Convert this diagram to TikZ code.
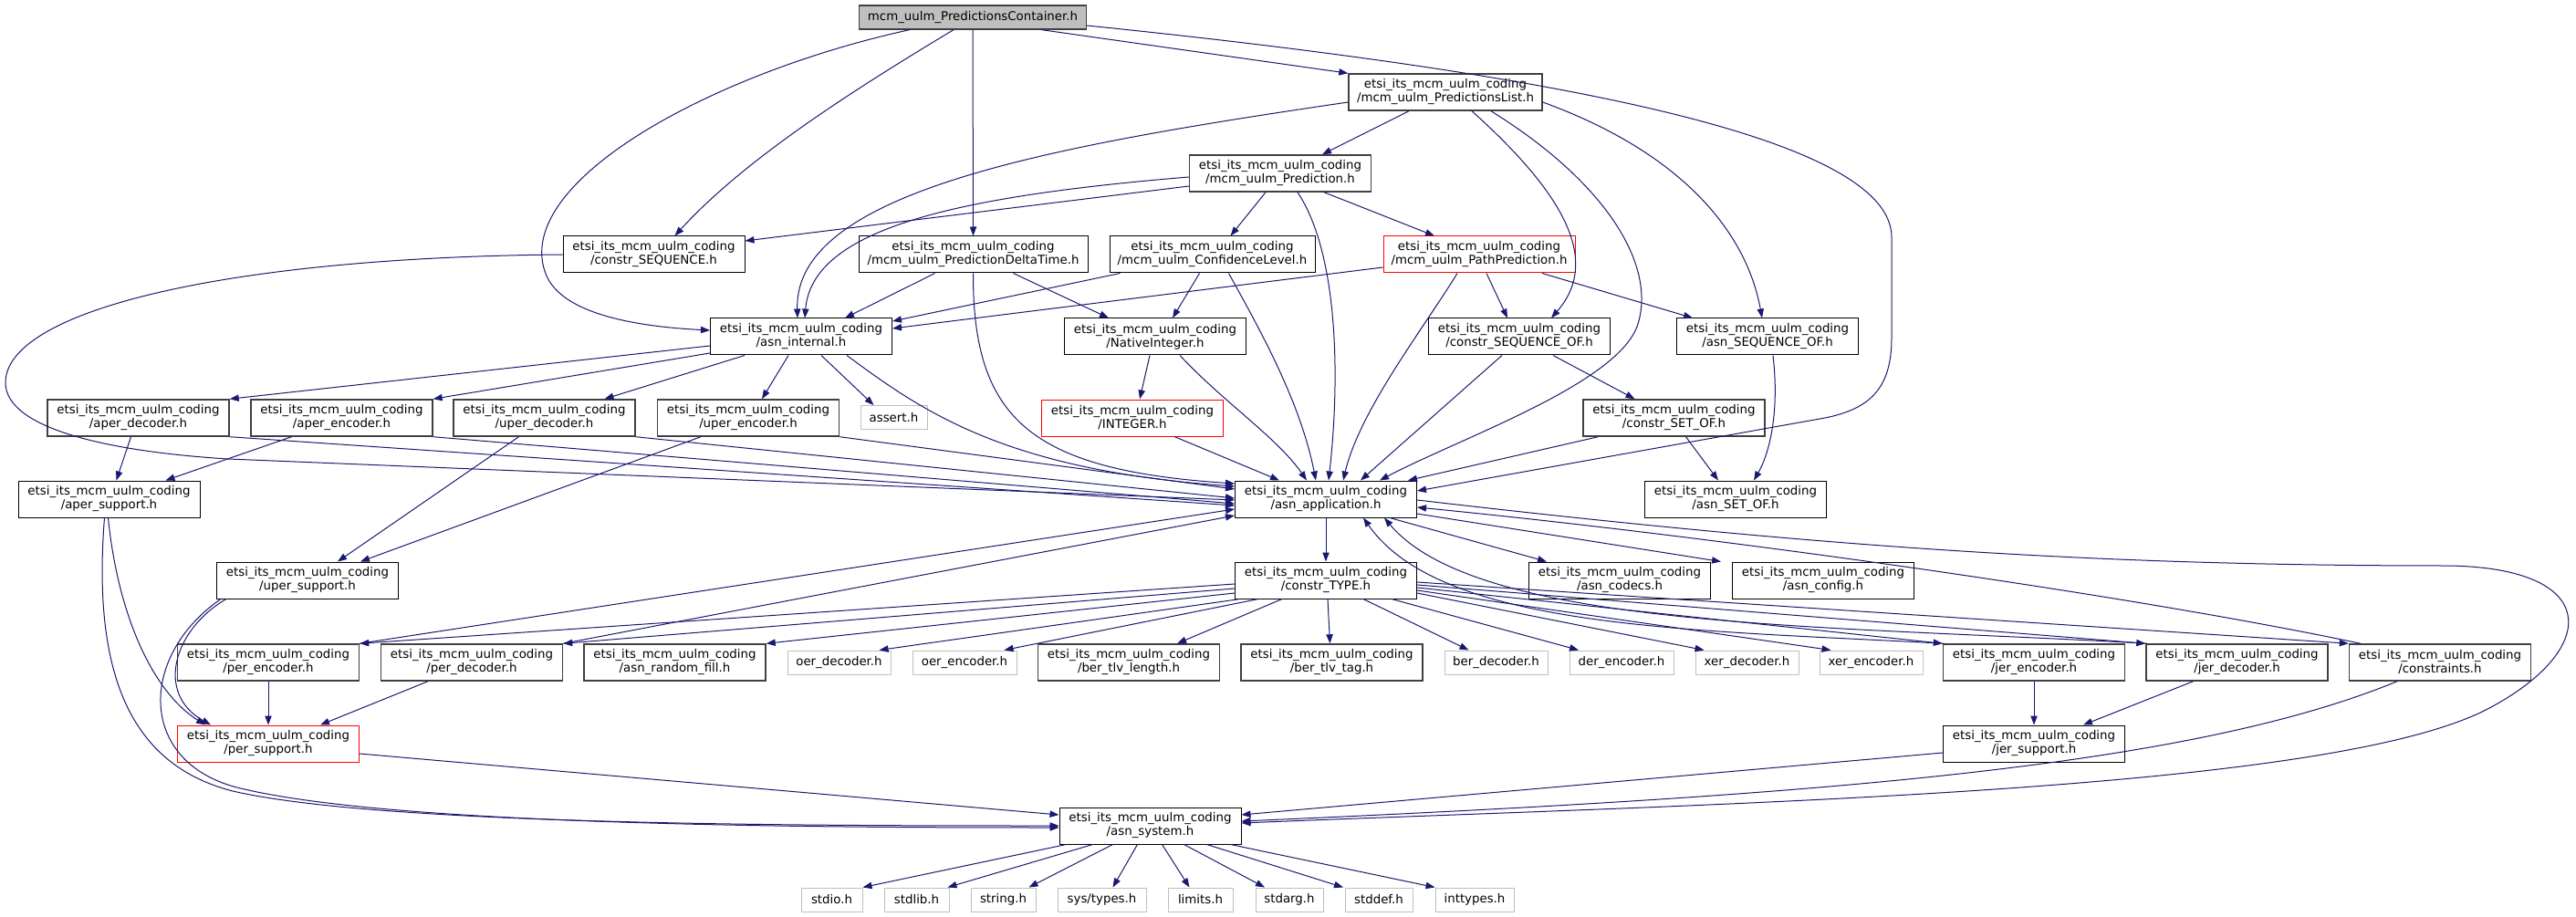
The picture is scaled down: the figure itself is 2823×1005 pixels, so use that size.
\documentclass[tikz,border=0pt]{standalone}
\usepackage{fontspec}
\setmainfont{DejaVu Sans}
\usepackage{tikz}
\usetikzlibrary{calc, arrows.meta}
\definecolor{edgeblue}{HTML}{191970}
\definecolor{rootgrey}{HTML}{BFBFBF}
\definecolor{sysgrey}{HTML}{BFBFBF}
\definecolor{bordergrey}{HTML}{404040}
\newcommand{\etsidir}{etsi\_its\_mcm\_uulm\_coding}
\tikzset{
	every node/.append style={
		font=\fontsize{10}{11.25}\selectfont,
		inner sep=0pt,
	},
	filebox/.append style={
		draw=black,
		fill=white,
		align=center,
		line width=0.75pt,
		minimum width=149.25pt,
		minimum height=30pt,
	},
	greybox/.append style={
		filebox,
		draw=bordergrey,
		line width=1.1pt,
	},
	cutbox/.append style={
		filebox,
		draw=red,
	},
	sysbox/.append style={
		draw=sysgrey,
		fill=white,
		line width=0.75pt,
		minimum height=19.5pt,
	},
	rootbox/.append style={
		draw=bordergrey,
		fill=rootgrey,
		line width=0.9pt,
		minimum height=19.5pt,
	},
	bw/.style={
		minimum width=#1*0.75pt,
	},
	dep/.append style={
		draw=edgeblue,
		line width=0.75pt,
		-{Triangle[length=7.5pt, width=5.5pt]},
	},
}

\begin{document}
\begin{tikzpicture}[x=0.75pt, y=-0.75pt]

\useasboundingbox[fill=white] (0,0) rectangle (2823,1005);

% root and generated headers
\node(top)[rootbox, bw=249] at (1066,19) {mcm\_uulm\_PredictionsContainer.h};
\node(plist)[greybox, bw=212] at (1584,101) {\etsidir\\/mcm\_uulm\_PredictionsList.h};
\node(pred)[greybox] at (1403,190) {\etsidir\\/mcm\_uulm\_Prediction.h};
\node(cseq)[filebox] at (716.5,279) {\etsidir\\/constr\_SEQUENCE.h};
\node(pdt)[filebox, bw=251] at (1066.5,279) {\etsidir\\/mcm\_uulm\_PredictionDeltaTime.h};
\node(conf)[filebox, bw=225] at (1328.5,279) {\etsidir\\/mcm\_uulm\_ConfidenceLevel.h};
\node(path)[cutbox, bw=210] at (1621,279) {\etsidir\\/mcm\_uulm\_PathPrediction.h};

% asn1c runtime
\node(asnint)[filebox] at (878,369) {\etsidir\\/asn\_internal.h};
\node(natint)[filebox] at (1266,369) {\etsidir\\/NativeInteger.h};
\node(cseqof)[filebox] at (1665,369) {\etsidir\\/constr\_SEQUENCE\_OF.h};
\node(asnseqof)[filebox] at (1937,369) {\etsidir\\/asn\_SEQUENCE\_OF.h};
\node(aperdec)[greybox] at (151.5,458) {\etsidir\\/aper\_decoder.h};
\node(aperenc)[greybox] at (374.5,458) {\etsidir\\/aper\_encoder.h};
\node(uperdec)[greybox] at (596.5,458) {\etsidir\\/uper\_decoder.h};
\node(uperenc)[greybox] at (820,458) {\etsidir\\/uper\_encoder.h};
\node(assert)[sysbox, bw=73] at (979.5,457.5) {assert.h};
\node(integer)[cutbox] at (1241,458) {\etsidir\\/INTEGER.h};
\node(csetof)[greybox] at (1834.5,458) {\etsidir\\/constr\_SET\_OF.h};
\node(apersup)[filebox] at (119.5,547) {\etsidir\\/aper\_support.h};
\node(asnapp)[filebox] at (1453,547) {\etsidir\\/asn\_application.h};
\node(asnsetof)[filebox] at (1902,547) {\etsidir\\/asn\_SET\_OF.h};
\node(upersup)[filebox] at (337,636) {\etsidir\\/uper\_support.h};
\node(ctype)[filebox] at (1453,636) {\etsidir\\/constr\_TYPE.h};
\node(codecs)[filebox] at (1775,636) {\etsidir\\/asn\_codecs.h};
\node(config)[filebox] at (1998,636) {\etsidir\\/asn\_config.h};

% codec row
\node(perenc)[greybox] at (294,726) {\etsidir\\/per\_encoder.h};
\node(perdec)[greybox] at (517,726) {\etsidir\\/per\_decoder.h};
\node(rndfill)[greybox] at (739.5,726) {\etsidir\\/asn\_random\_fill.h};
\node(oerdec)[sysbox, bw=113] at (919.5,726) {oer\_decoder.h};
\node(oerenc)[sysbox, bw=114] at (1057,726) {oer\_encoder.h};
\node(tlvlen)[greybox] at (1237,726) {\etsidir\\/ber\_tlv\_length.h};
\node(tlvtag)[greybox] at (1459.5,726) {\etsidir\\/ber\_tlv\_tag.h};
\node(berdec)[sysbox, bw=113] at (1639.5,726) {ber\_decoder.h};
\node(derenc)[sysbox, bw=114] at (1777,726) {der\_encoder.h};
\node(xerdec)[sysbox, bw=113] at (1914.5,726) {xer\_decoder.h};
\node(xerenc)[sysbox, bw=113] at (2050.5,726) {xer\_encoder.h};
\node(jerenc)[greybox] at (2229,726) {\etsidir\\/jer\_encoder.h};
\node(jerdec)[greybox] at (2451.5,726) {\etsidir\\/jer\_decoder.h};
\node(constr)[greybox] at (2674,726) {\etsidir\\/constraints.h};
\node(persup)[cutbox] at (294,815) {\etsidir\\/per\_support.h};
\node(jersup)[filebox] at (2229,815) {\etsidir\\/jer\_support.h};
\node(asnsys)[filebox] at (1260.5,905) {\etsidir\\/asn\_system.h};

% system headers
\node(stdio)[sysbox, bw=67] at (911.5,986) {stdio.h};
\node(stdlib)[sysbox, bw=71] at (1004.5,986) {stdlib.h};
\node(string)[sysbox, bw=71] at (1099.5,986) {string.h};
\node(systypes)[sysbox, bw=97] at (1207.5,986) {sys/types.h};
\node(limits)[sysbox, bw=71] at (1315.5,986) {limits.h};
\node(stdarg)[sysbox, bw=74] at (1413,986) {stdarg.h};
\node(stddef)[sysbox, bw=74] at (1511,986) {stddef.h};
\node(inttypes)[sysbox, bw=86] at (1616,986) {inttypes.h};

% includes of the root
\draw[dep] ($(top.south)+(-69,0)$) .. controls (780,80) and (560,200) .. (598,300) .. controls (615,345) and (700,358) .. ($(asnint.west)+(0,-7)$);
\draw[dep] ($(top.south)+(-21,0)$) .. controls (950,90) and (820,170) .. ($(cseq.north)+(23,0)$);
\draw[dep] (top.south) -- (pdt.north);
\draw[dep] ($(top.south)+(75,0)$) -- (plist.north west);
\draw[dep] ($(top.east)+(0,9)$) .. controls (1700,80) and (2073,150) .. (2073,260) -- (2073,370) .. controls (2073,425) and (2050,448) .. (2000,458) -- ($(asnapp.east)+(0,-9)$);

% PredictionsList and Prediction
\draw[dep] ($(plist.west)+(0,11)$) .. controls (1150,160) and (870,210) .. ($(asnint.north)+(-4,0)$);
\draw[dep] ($(plist.south)+(-40,0)$) -- ($(pred.north)+(46,0)$);
\draw[dep] ($(plist.south)+(29,0)$) .. controls (1700,200) and (1760,280) .. ($(cseqof.north)+(35,0)$);
\draw[dep] ($(plist.south)+(50,0)$) .. controls (1760,200) and (1815,290) .. (1795,355) .. controls (1775,420) and (1600,480) .. ($(asnapp.north)+(59,0)$);
\draw[dep] ($(plist.east)+(0,11)$) .. controls (1850,170) and (1915,260) .. ($(asnseqof.north)+(-6,0)$);
\draw[dep] ($(pred.west)+(0,14)$) -- ($(cseq.east)+(0,-15)$);
\draw[dep] ($(pred.west)+(0,4)$) .. controls (1050,215) and (890,250) .. ($(asnint.north)+(4,0)$);
\draw[dep] ($(pred.south)+(-16,0)$) -- ($(conf.north)+(20,0)$);
\draw[dep] ($(pred.south)+(19,0)$) .. controls (1468,280) and (1468,420) .. ($(asnapp.north)+(3,0)$);
\draw[dep] ($(pred.south)+(48,0)$) -- ($(path.north)+(-49,0)$);
\draw[dep] (cseq.west) .. controls (250,282) and (5,340) .. (6,420) .. controls (7,470) and (120,495) .. (250,503) -- ($(asnapp.west)+(0,1)$);

% second row
\draw[dep] ($(pdt.south)+(-42,0)$) -- ($(asnint.north)+(48,0)$);
\draw[dep] ($(pdt.south)+(44,0)$) -- ($(natint.north)+(-51,0)$);
\draw[dep] (pdt.south) .. controls (1066,460) and (1130,515) .. ($(asnapp.west)+(0,-17)$);
\draw[dep] ($(conf.south west)+(12,0)$) -- ($(asnint.east)+(0,-17)$);
\draw[dep] ($(conf.south)+(-14,0)$) -- ($(natint.north)+(19,0)$);
\draw[dep] ($(conf.south)+(18,0)$) .. controls (1380,360) and (1425,440) .. ($(asnapp.north)+(-11,0)$);
\draw[dep] ($(path.west)+(0,14)$) -- ($(asnint.east)+(0,-9)$);
\draw[dep] ($(path.south)+(-24,0)$) .. controls (1560,360) and (1490,450) .. ($(asnapp.north)+(19,0)$);
\draw[dep] ($(path.south)+(8,0)$) -- ($(cseqof.north)+(-13,0)$);
\draw[dep] ($(path.south)+(69,0)$) -- ($(asnseqof.north)+(-82,0)$);

% asn_internal and friends
\draw[dep] ($(asnint.west)+(0,10)$) -- (aperdec.north east);
\draw[dep] ($(asnint.west)+(0,18)$) -- (aperenc.north east);
\draw[dep] ($(asnint.south)+(-62,0)$) -- ($(uperdec.north)+(66,0)$);
\draw[dep] ($(asnint.south)+(-14,0)$) -- ($(uperenc.north)+(15,0)$);
\draw[dep] ($(asnint.south)+(22,0)$) -- ($(assert.north)+(-22,0)$);
\draw[dep] ($(asnint.south)+(50,0)$) .. controls (1010,450) and (1100,515) .. ($(asnapp.west)+(0,-14)$);
\draw[dep] ($(natint.south)+(-6,0)$) -- ($(integer.north)+(8,0)$);
\draw[dep] ($(natint.south)+(27,0)$) .. controls (1340,440) and (1400,480) .. ($(asnapp.north)+(-21,0)$);
\draw[dep] ($(integer.south)+(46,0)$) -- ($(asnapp.north)+(-51,0)$);
\draw[dep] ($(cseqof.south)+(37,0)$) -- ($(csetof.north)+(-43,0)$);
\draw[dep] ($(cseqof.south)+(-19,0)$) -- ($(asnapp.north)+(38,0)$);
\draw[dep] ($(asnseqof.south)+(6,0)$) .. controls (1950,450) and (1940,495) .. ($(asnsetof.north)+(20,0)$);
\draw[dep] ($(csetof.south west)+(17,0)$) -- ($(asnapp.north east)+(-10,0)$);
\draw[dep] ($(csetof.south)+(13,0)$) -- ($(asnsetof.north)+(-19,0)$);

% aper / uper
\draw[dep] ($(aperdec.south)+(-8,0)$) -- ($(apersup.north)+(8,0)$);
\draw[dep] ($(aperenc.south)+(-55,0)$) -- ($(apersup.north)+(62,0)$);
\draw[dep] (aperdec.south east) -- ($(asnapp.west)+(0,7)$);
\draw[dep] (aperenc.south east) -- ($(asnapp.west)+(0,5)$);
\draw[dep] ($(uperdec.south)+(-28,0)$) -- ($(upersup.north)+(33,0)$);
\draw[dep] ($(uperenc.south)+(-52,0)$) -- ($(upersup.north)+(58,0)$);
\draw[dep] (uperdec.south east) -- ($(asnapp.west)+(0,-1)$);
\draw[dep] (uperenc.south east) -- ($(asnapp.west)+(0,-11)$);
\draw[dep] ($(apersup.south)+(-1,0)$) .. controls (130,680) and (170,760) .. ($(persup.north west)+(31,0)$);
\draw[dep] ($(apersup.south)+(-5,0)$) .. controls (100,750) and (150,840) .. (255,867) .. controls (420,905) and (900,905) .. (asnsys.west);
\draw[dep] ($(upersup.south west)+(11,0)$) .. controls (190,690) and (170,760) .. ($(persup.north west)+(37,0)$);
\draw[dep] ($(upersup.south west)+(5,0)$) .. controls (150,720) and (150,840) .. (268,865) .. controls (440,905) and (900,907) .. ($(asnsys.west)+(0,2)$);

% per
\draw[dep] (perenc.south) -- (persup.north);
\draw[dep] ($(perdec.south)+(-48,0)$) -- ($(persup.north)+(57,0)$);
\draw[dep] (perenc.north east) -- ($(asnapp.west)+(0,11)$);
\draw[dep] (perdec.north east) -- ($(asnapp.west)+(0,18)$);
\draw[dep] ($(persup.east)+(0,11)$) -- ($(asnsys.west)+(0,-12)$);

% asn_application
\draw[dep] (asnapp.south) -- (ctype.north);
\draw[dep] ($(asnapp.south)+(70,0)$) -- ($(codecs.north)+(-80,0)$);
\draw[dep] ($(asnapp.east)+(0,16)$) -- ($(config.north)+(-112,0)$);
\draw[dep] ($(asnapp.east)+(0,1)$) .. controls (2000,600) and (2300,620) .. (2682,620) .. controls (2850,622) and (2850,710) .. (2730,775) .. controls (2560,868) and (1900,880) .. ($(asnsys.east)+(0,-3)$);

% constr_TYPE
\draw[dep] ($(ctype.west)+(0,4)$) -- (perenc.north east);
\draw[dep] ($(ctype.west)+(0,9)$) -- (perdec.north east);
\draw[dep] ($(ctype.west)+(0,14)$) -- (rndfill.north east);
\draw[dep] ($(ctype.south west)+(6,0)$) -- ($(oerdec.north east)+(-13,0)$);
\draw[dep] ($(ctype.south west)+(26,0)$) -- ($(oerenc.north east)+(-14,0)$);
\draw[dep] ($(ctype.south)+(-48,0)$) -- ($(tlvlen.north)+(53,0)$);
\draw[dep] ($(ctype.south)+(2,0)$) -- ($(tlvtag.north)+(-2,0)$);
\draw[dep] ($(ctype.south)+(41,0)$) -- ($(berdec.north)+(-30,0)$);
\draw[dep] ($(ctype.south)+(72,0)$) -- ($(derenc.north)+(-47,0)$);
\draw[dep] ($(ctype.east)+(0,14)$) -- ($(xerdec.north)+(-47,0)$);
\draw[dep] ($(ctype.east)+(0,11)$) -- ($(xerenc.north)+(-44,0)$);
\draw[dep] ($(ctype.east)+(0,8)$) -- (jerenc.north west);
\draw[dep] ($(ctype.east)+(0,5)$) -- (jerdec.north west);
\draw[dep] ($(ctype.east)+(0,2)$) -- (constr.north west);

% jer and constraints
\draw[dep] ($(jerenc.north west)+(2,0)$) .. controls (1850,690) and (1580,690) .. ($(asnapp.south)+(41,0)$);
\draw[dep] ($(jerdec.north west)+(2,0)$) .. controls (2000,685) and (1620,690) .. ($(asnapp.south)+(64,0)$);
\draw[dep] ($(constr.north west)+(13,0)$) .. controls (2350,655) and (1900,590) .. ($(asnapp.east)+(0,9)$);
\draw[dep] (jerenc.south) -- (jersup.north);
\draw[dep] ($(jerdec.south)+(-48,0)$) -- ($(jersup.north)+(54,0)$);
\draw[dep] ($(jersup.west)+(0,10)$) -- ($(asnsys.east)+(0,-12)$);
\draw[dep] ($(constr.south)+(-47,0)$) .. controls (2400,840) and (2000,872) .. ($(asnsys.east)+(0,-5)$);

% asn_system
\draw[dep] ($(asnsys.south west)+(8,0)$) -- (stdio.north east);
\draw[dep] ($(asnsys.south west)+(37,0)$) -- ($(stdlib.north east)+(-2,0)$);
\draw[dep] ($(asnsys.south west)+(59,0)$) -- ($(string.north)+(28,0)$);
\draw[dep] ($(asnsys.south)+(-14,0)$) -- ($(systypes.north)+(12,0)$);
\draw[dep] ($(asnsys.south)+(13,0)$) -- ($(limits.north)+(-12,0)$);
\draw[dep] ($(asnsys.south)+(37,0)$) -- ($(stdarg.north)+(-27,0)$);
\draw[dep] ($(asnsys.south)+(62,0)$) -- ($(stddef.north)+(-39,0)$);
\draw[dep] ($(asnsys.south east)+(-12,0)$) -- (inttypes.north west);

\end{tikzpicture}
\end{document}
